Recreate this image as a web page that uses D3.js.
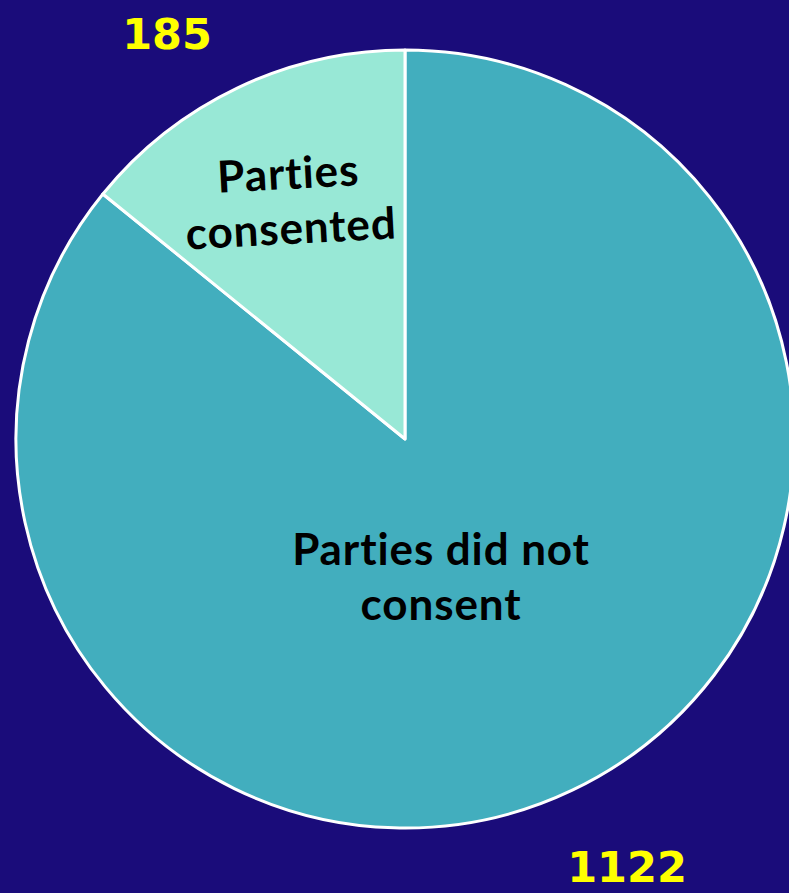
<html>
<head>
  <script src="https://d3js.org/d3.v7.min.js"></script>
  <style>
    body { margin: 0; background: #1a0c7a; overflow: hidden; }
  </style>
</head>
<body>
  <svg width="789" height="893"></svg>
  <script>
  // chart data
  var categories = ["Parties did not consent", "Parties consented"];
  var values = [1122, 185];
  var valueLabels = ["1122", "185"];
  var sliceColors = ["#42aebe", "#98e8d6"];

  var svg = d3.select("svg"),
    width = +svg.attr("width"),
    height = +svg.attr("height");

  svg.append("rect")
    .attr("width", width)
    .attr("height", height)
    .attr("fill", "#1a0c7a");

  var cx = 405, cy = 439, R = 389;

  var pie = d3.pie().sort(null).value(function(d) { return d; });
  var arcs = pie(values);
  var arc = d3.arc().innerRadius(0).outerRadius(R);

  var g = svg.append("g").attr("transform", "translate(" + cx + "," + cy + ")");

  g.selectAll("path")
    .data(arcs)
    .enter()
    .append("path")
    .attr("d", arc)
    .attr("fill", function(d, i) { return sliceColors[i]; })
    .attr("stroke", "#ffffff")
    .attr("stroke-width", 3)
    .attr("stroke-linejoin", "round");

  // where the texts sit, relative to the centre
  var inside = [
    {dx: 36, dy: 126, lines: ["Parties did not", "consent"], rot: 0},
    {dx: -116, dy: -250, lines: ["Parties", "consented"], rot: -3}
  ];
  var outside = [
    {dx: 222, dy: 443},
    {dx: -238, dy: -390}
  ];

  arcs.forEach(function(a, i) {
    var t = g.append("text")
      .attr("transform", "translate(" + inside[i].dx + "," + inside[i].dy + ") rotate(" + inside[i].rot + ")")
      .attr("text-anchor", "middle")
      .style("font-family", "Lato, 'Open Sans', sans-serif")
      .style("font-weight", "bold")
      .style("font-size", "44px")
      .style("letter-spacing", "0.9px")
      .style("font-variant-ligatures", "none")
      .style("fill", "#000");
    inside[i].lines.forEach(function(line, k) {
      t.append("tspan")
        .attr("x", 0)
        .attr("y", k * 55)
        .text(line);
    });

    g.append("text")
      .attr("x", outside[i].dx)
      .attr("y", outside[i].dy)
      .attr("text-anchor", "middle")
      .style("font-family", "'DejaVu Sans', sans-serif")
      .style("font-weight", "bold")
      .style("font-size", "43px")
      .style("fill", "#ffff00")
      .text(valueLabels[i]);
  });
  </script>
</body>
</html>
